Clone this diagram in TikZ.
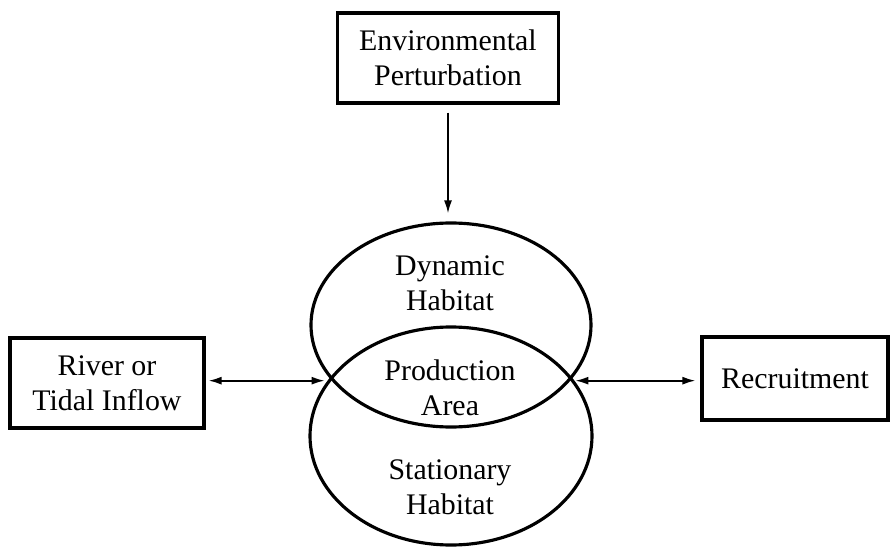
\documentclass[tikz,border=0pt]{standalone}
\usepackage{fontspec}
\setmainfont{Liberation Serif}
\usepackage{tikz}
\usetikzlibrary{arrows.meta,positioning,shapes.geometric,calc}
\tikzset{
    boxnode/.style={draw, line width=1.8pt, align=center, font=\fontsize{17}{20}\selectfont, inner sep=0pt},
    habitat/.style={draw, ellipse, line width=1.8pt, inner sep=0pt},
    habtext/.style={align=center, font=\fontsize{17}{20}\selectfont},
    onearr/.style={-{Latex[length=2.6mm, width=1.6mm]}, line width=1pt},
    twoarr/.style={{Latex[length=2.6mm, width=1.6mm]}-{Latex[length=2.6mm, width=1.6mm]}, line width=1pt},
}

\begin{document}
\begin{tikzpicture}
\useasboundingbox (0,0) rectangle (17.8,10.96);
\node[boxnode, minimum width=4.42cm, minimum height=1.8cm] (env) at (8.96,9.8) {Environmental\\Perturbation};
\node[habitat, minimum width=5.6cm, minimum height=4.08cm] (dyn) at (9.02,4.46) {};
\node[habitat, minimum width=5.64cm, minimum height=4.36cm] (stat) at (9.02,2.24) {};
\node[habtext] (dyntxt) at (9.0,5.3) {Dynamic\\Habitat};
\node[habtext] (prod) at (9.0,3.2) {Production\\Area};
\node[habtext] (stattxt) at (9.0,1.22) {Stationary\\Habitat};
\node[boxnode, minimum width=3.88cm, minimum height=1.8cm] (river) at (2.14,3.3) {River or\\Tidal Inflow};
\node[boxnode, minimum width=3.72cm, minimum height=1.66cm] (rec) at (15.9,3.39) {Recruitment};

\coordinate (pl) at (dyn.205);
\coordinate (pr) at (dyn.335);

\draw[onearr, shorten <=0.16cm, shorten >=0.16cm] (env.south) -- (env.south |- dyn.north);
\draw[twoarr, shorten <=0.06cm, shorten >=0.14cm] (river.east |- pl) -- (pl);
\draw[twoarr, shorten <=0.1cm, shorten >=0.1cm] (pr) -- (rec.west |- pr);
\end{tikzpicture}
\end{document}
